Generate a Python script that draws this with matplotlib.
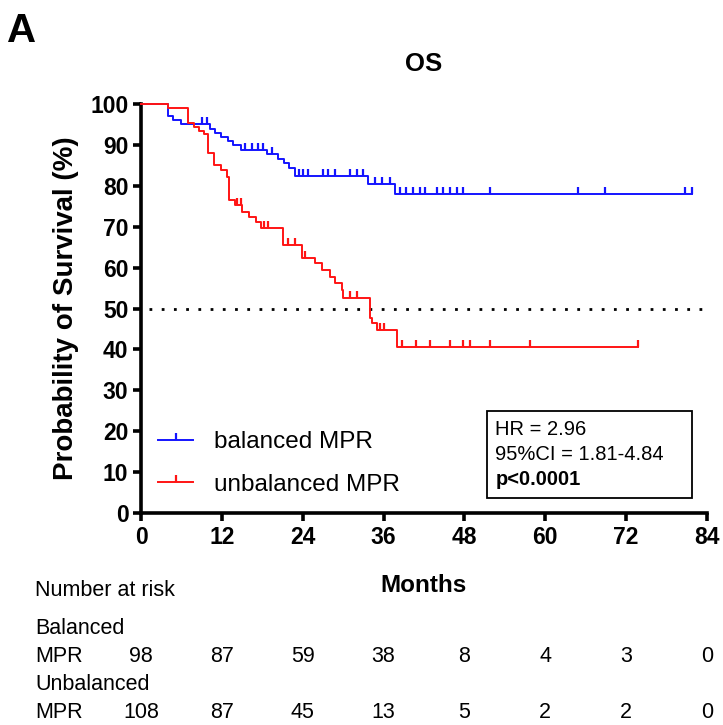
import numpy as np
import matplotlib
matplotlib.use('Agg')
import matplotlib.pyplot as plt
from matplotlib.lines import Line2D
from matplotlib.patches import Rectangle

# ---------------- data ----------------
month_ticks = [0, 12, 24, 36, 48, 60, 72, 84]
surv_ticks = list(range(0, 101, 10))

bal_times = [0, 4.0, 4.7, 6.0, 10.2, 11.0, 11.8, 12.9, 13.6, 14.8, 18.7, 20.3, 21.2, 22.0, 22.8, 33.7, 37.7]
bal_surv = [100, 97.0, 96.0, 95.0, 94.0, 93.0, 92.0, 91.0, 90.0, 88.8, 87.8, 86.6, 85.5, 84.4, 82.3, 80.5, 78.0]
bal_cens = [9.0, 9.8, 15.4, 16.4, 17.3, 18.1, 19.5, 23.4, 24.1, 24.8, 27.0, 27.8, 28.8, 31.0, 32.0, 33.0,
            34.7, 35.8, 37.0, 38.4, 39.4, 40.4, 41.4, 42.2, 43.9, 44.8, 45.8, 46.9, 47.8, 51.8, 64.8, 68.8,
            80.7, 81.7]
bal_end = 81.7

unb_times = [0, 4.0, 7.0, 7.8, 8.6, 9.3, 10.0, 10.8, 11.8, 12.8, 13.0, 14.0, 15.0, 16.0, 17.0, 17.8, 21.0,
             23.9, 25.8, 26.8, 28.0, 28.8, 29.8, 30.0, 34.0, 34.3, 35.0, 38.0]
unb_surv = [100, 99.1, 95.4, 94.4, 93.5, 92.6, 88.0, 85.2, 83.9, 82.2, 76.5, 75.2, 73.6, 72.4, 71.1, 69.7, 65.5,
            62.3, 61.1, 59.4, 57.7, 56.2, 54.5, 52.6, 47.7, 46.5, 44.7, 40.6]
unb_cens = [14.2, 14.8, 18.2, 18.9, 21.8, 22.8, 24.3, 31.0, 32.0, 35.5, 36.0, 38.7, 40.8, 42.9, 45.8, 47.8,
            48.8, 51.8, 57.7, 73.7]
unb_end = 73.7

risk_bal = [98, 87, 59, 38, 8, 4, 3, 0]
risk_unb = [108, 87, 45, 13, 5, 2, 2, 0]

hr_lines = ["HR = 2.96", "95%CI = 1.81-4.84", "p<0.0001"]

# ---------------- styling ----------------
plt.rcParams['font.family'] = ['Liberation Sans', 'DejaVu Sans']
narrow = ['Liberation Sans Narrow', 'Liberation Sans', 'DejaVu Sans']
BLUE = '#1414ff'
RED = '#ff1414'
tick_marker = [(0, 0), (0, 1)]

W, H = 723, 725
fig = plt.figure(figsize=(W / 100, H / 100), dpi=100)
ax = fig.add_axes([141 / W, 1 - 513 / H, 566 / W, 409 / H])


def draw_curve(times, surv, cens, end, color, label):
    t = np.append(times, end)
    s = np.append(surv, surv[-1])
    ax.step(t, s, where='post', color=color, lw=1.4, clip_on=False, zorder=3)
    idx = np.searchsorted(times, cens, side='right') - 1
    cy = np.asarray(surv)[idx]
    ax.plot(cens, cy, linestyle='none', marker=tick_marker, markersize=10,
            markeredgewidth=1.6, color=color, clip_on=False, zorder=3)
    return Line2D([], [], color=color, lw=1.4, marker=tick_marker, markersize=10,
                  markeredgewidth=1.6, label=label)


h1 = draw_curve(bal_times, bal_surv, bal_cens, bal_end, BLUE, 'balanced MPR')
h2 = draw_curve(unb_times, unb_surv, unb_cens, unb_end, RED, 'unbalanced MPR')

ax.axhline(50, xmin=0.015, color='black', linestyle=(0, (1, 3.4)), lw=2.0, zorder=2)

ax.set_xlim(0, 84)
ax.set_ylim(0, 100)
ax.set_xticks(month_ticks)
ax.set_yticks(surv_ticks)
for side in ['top', 'right']:
    ax.spines[side].set_visible(False)
for side in ['left', 'bottom']:
    ax.spines[side].set_linewidth(2.6)
ax.tick_params(axis='both', direction='out', length=6, width=2.6, labelsize=16.5, pad=3)
for lab in ax.get_xticklabels() + ax.get_yticklabels():
    lab.set_fontweight('bold')

ax.set_ylabel('Probability of Survival (%)', fontsize=20, fontweight='bold', labelpad=8)
ax.set_title('OS', fontsize=18.5, fontweight='bold', pad=24, family=narrow)

leg = ax.legend(handles=[h1, h2], loc='lower left', bbox_to_anchor=(0.0, 0.0), frameon=False,
                fontsize=17.5, handlelength=1.45, handletextpad=0.85, labelspacing=0.85, numpoints=1,
                borderaxespad=0.3)

# HR box
box = Rectangle((0.611, 0.037), 0.362, 0.212, transform=ax.transAxes, fill=False,
                edgecolor='black', lw=1.3, clip_on=False)
ax.add_patch(box)
for i, txt in enumerate(hr_lines):
    ax.text(0.626, 0.203 - i * 0.061, txt, transform=ax.transAxes, fontsize=14.5,
            fontweight='bold' if i == 2 else 'normal', va='center', ha='left')

# panel letter
fig.text(7 / W, 1 - 12 / H, 'A', fontsize=29, fontweight='bold', va='top', ha='left', family=narrow)

# Months label and number at risk
FS = 15.5
fig.text(423 / W, 1 - 586 / H, 'Months', fontsize=17.5, fontweight='bold', ha='center', va='center',
         family=narrow)
fig.text(35 / W, 1 - 590 / H, 'Number at risk', fontsize=FS, ha='left', va='center', family=narrow)
fig.text(35 / W, 1 - 629 / H, 'Balanced', fontsize=FS, ha='left', va='center', family=narrow)
fig.text(35 / W, 1 - 657 / H, 'MPR', fontsize=FS, ha='left', va='center', family=narrow)
fig.text(35 / W, 1 - 684 / H, 'Unbalanced', fontsize=FS, ha='left', va='center', family=narrow)
fig.text(35 / W, 1 - 712 / H, 'MPR', fontsize=FS, ha='left', va='center', family=narrow)

xt = ax.get_xaxis_transform()
for m, nb, nu in zip(month_ticks, risk_bal, risk_unb):
    ax.text(m, -(657 - 513) / 409, str(nb), transform=xt, fontsize=FS, ha='center', va='center',
            family=narrow, clip_on=False)
    ax.text(m, -(713 - 513) / 409, str(nu), transform=xt, fontsize=FS, ha='center', va='center',
            family=narrow, clip_on=False)

fig.savefig('out.png', dpi=100)
